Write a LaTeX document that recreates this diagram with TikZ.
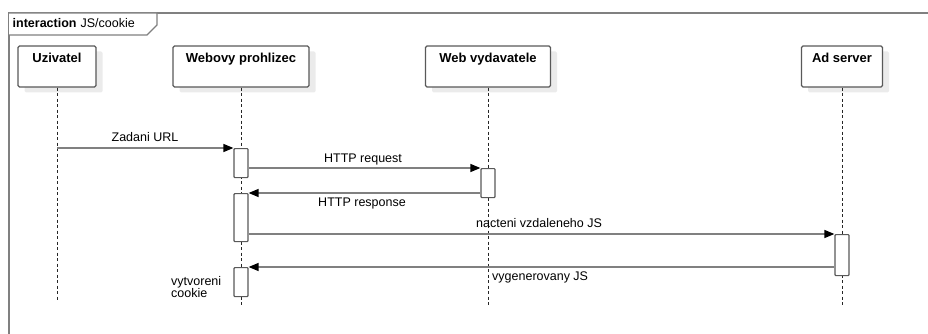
\documentclass[tikz,border=0pt]{standalone}
\usepackage{fontspec}
\setmainfont{Liberation Sans}
\usetikzlibrary{arrows.meta,calc,shadows}
\begin{document}
\begin{tikzpicture}[x=1pt,y=-1pt,
  every node/.style={font=\fontsize{12.5}{14}\selectfont, inner sep=0pt},
  frameline/.style={draw=black!50, line width=1.3pt},
  headbox/.style={draw=black!65, line width=1.3pt, rounded corners=1.5pt, fill=white,
    minimum height=41pt, inner sep=0pt,
    drop shadow={shadow xshift=6.5pt, shadow yshift=-5.5pt, fill=black!8, opacity=1}},
  headlbl/.style={font=\fontsize{13}{15}\selectfont\bfseries, anchor=base},
  lifeline/.style={draw=black!85, line width=0.9pt, dash pattern=on 3pt off 2.5pt},
  actbox/.style={draw=black!65, line width=1.2pt, fill=white, minimum width=14pt,
    minimum height=#1, anchor=north, rounded corners=0.8pt},
  msg/.style={draw=black!50, line width=1.3pt,
    -{Triangle[length=10pt, width=8pt, color=black]}},
  msglbl/.style={anchor=base}
]
\useasboundingbox (0,0) rectangle (928,334);

% interaction frame and its name tab
\draw[frameline] (9,340) -- (9,13) -- (935,13);
\draw[frameline, fill=white] (9,13) -- (157,13) -- (157,25) -- (147,35) -- (9,35);
\node[anchor=base west] (title) at (12.5,27.5)
  {\textbf{interaction}\hspace{4pt}JS/cookie};

% lifeline heads
\node[headbox, minimum width=78pt]  (hu) at (57,66.5)  {};
\node[headbox, minimum width=136pt] (hw) at (241,66.5) {};
\node[headbox, minimum width=125pt] (hv) at (488,66.5) {};
\node[headbox, minimum width=81pt]  (ha) at (842,66.5) {};
\node[headlbl] (tu) at ($(hu.north)+(0,17)$) {Uzivatel};
\node[headlbl] (tw) at ($(hw.north)+(0,17)$) {Webovy prohlizec};
\node[headlbl] (tv) at ($(hv.north)+(0,17)$) {Web vydavatele};
\node[headlbl] (ta) at ($(ha.north)+(0,17)$) {Ad server};

% lifelines
\coordinate (eu) at (57,300);
\coordinate (ew) at (241,305);
\coordinate (ev) at (488,305);
\coordinate (ea) at (842,305);
\draw[lifeline] (hu.south) -- (eu);
\draw[lifeline] (hw.south) -- (ew);
\draw[lifeline] (hv.south) -- (ev);
\draw[lifeline] (ha.south) -- (ea);

% activation bars
\node[actbox=29pt] (w1) at (241,148) {};
\node[actbox=29pt] (v1) at (488,168) {};
\node[actbox=48pt] (w2) at (241,193) {};
\node[actbox=41pt] (a1) at (842,234) {};
\node[actbox=29pt] (w3) at (241,267) {};

% messages
\draw[msg] (hu |- w1.north) -- (w1.north west);
\draw[msg] (w1.east |- v1.north) -- (v1.north west);
\draw[msg] (v1.west |- w2.north) -- (w2.north east);
\draw[msg] (w2.east |- a1.north) -- (a1.north west);
\draw[msg] (a1.west |- w3.north) -- (w3.north east);

% message labels
\node[msglbl] (l1) at (145,141) {Zadani URL};
\node[msglbl] (l2) at (363,162.5) {HTTP request};
\node[msglbl] (l3) at (362,206.5) {HTTP response};
\node[msglbl, anchor=base west] (l4) at (476,227) {nacteni vzdaleneho JS};
\node[msglbl, anchor=base west] (l5) at (492,280) {vygenerovany JS};
\node[msglbl, anchor=base west] (l6a) at (171,285) {vytvoreni};
\node[msglbl, anchor=base west] (l6b) at (171,297) {cookie};
\end{tikzpicture}
\end{document}
